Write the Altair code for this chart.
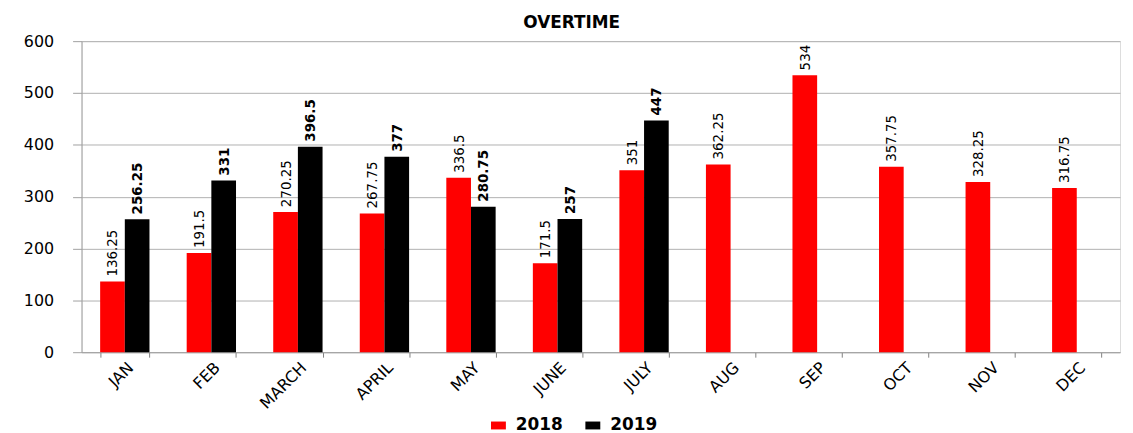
import altair as alt
import pandas as pd

months = ["JAN", "FEB", "MARCH", "APRIL", "MAY", "JUNE", "JULY", "AUG", "SEP", "OCT", "NOV", "DEC"]
v2018 = [136.25, 191.5, 270.25, 267.75, 336.5, 171.5, 351, 362.25, 534, 357.75, 328.25, 316.75]
v2019 = [256.25, 331, 396.5, 377, 280.75, 257, 447]
years = ["2018", "2019"]
colors = ["#ff0000", "#000000"]

rows = []
for m, v in zip(months, v2018):
    rows.append({"month": m, "year": "2018", "value": v, "label": f"{v:g}"})
for m, v in zip(months, v2019):
    rows.append({"month": m, "year": "2019", "value": v, "label": f"{v:g}"})
df = pd.DataFrame(rows)

FONT = "DejaVu Sans"
NARROW = "DejaVu Sans Condensed, Liberation Sans, sans-serif"

x = alt.X("month:N", sort=months, title=None,
          scale=alt.Scale(paddingInner=0.43, paddingOuter=0.215),
          axis=alt.Axis(labelAngle=-45, labelFont=FONT, labelFontSize=16, labelColor="#000000",
                        tickBand="extent", tickSize=5, tickColor="#808080", domainColor="#a0a0a0",
                        labelPadding=2, grid=False))
xo = alt.XOffset("year:N", scale=alt.Scale(domain=years))
y = alt.Y("value:Q", title=None,
          scale=alt.Scale(domain=[0, 600]),
          axis=alt.Axis(values=[0, 100, 200, 300, 400, 500, 600], labelFont=FONT, labelFontSize=16,
                        labelColor="#000000", tickSize=9, tickColor="#a0a0a0", domainColor="#a0a0a0",
                        gridColor="#b0b0b0", labelPadding=19))

bars = alt.Chart(df).mark_bar().encode(
    x=x, xOffset=xo, y=y,
    color=alt.Color("year:N", scale=alt.Scale(domain=years, range=colors),
                    legend=alt.Legend(title=None, orient="none", direction="horizontal",
                                      legendX=411, legendY=378,
                                      symbolType="M-1,-0.53L1,-0.53L1,0.53L-1,0.53Z",
                                      symbolSize=225, symbolStrokeWidth=0, labelFont=FONT,
                                      labelFontSize=17, labelFontWeight="bold", labelColor="#000000",
                                      labelOffset=9, columnPadding=21)),
)

lab18 = alt.Chart(df).transform_filter(alt.datum.year == "2018").mark_text(
    angle=270, align="left", baseline="middle", dx=5, font=NARROW, fontSize=15, color="#000000"
).encode(x=x, xOffset=xo, y=y, text="label:N")

lab19 = alt.Chart(df).transform_filter(alt.datum.year == "2019").mark_text(
    angle=270, align="left", baseline="middle", dx=5, font=NARROW, fontSize=15, fontWeight="bold",
    color="#000000"
).encode(x=x, xOffset=xo, y=y, text="label:N")

chart = alt.layer(bars, lab18, lab19).properties(
    width=1045, height=313,
    title=alt.TitleParams("OVERTIME", font=FONT, fontSize=17, fontWeight="bold", color="#000000",
                          anchor="middle", frame="bounds", offset=1),
    padding={"left": 15, "right": 5, "top": 5, "bottom": 5},
).configure_view(stroke=None).configure(background="white")

chart.save("out.html", embed_options={"renderer": "svg", "actions": False})
